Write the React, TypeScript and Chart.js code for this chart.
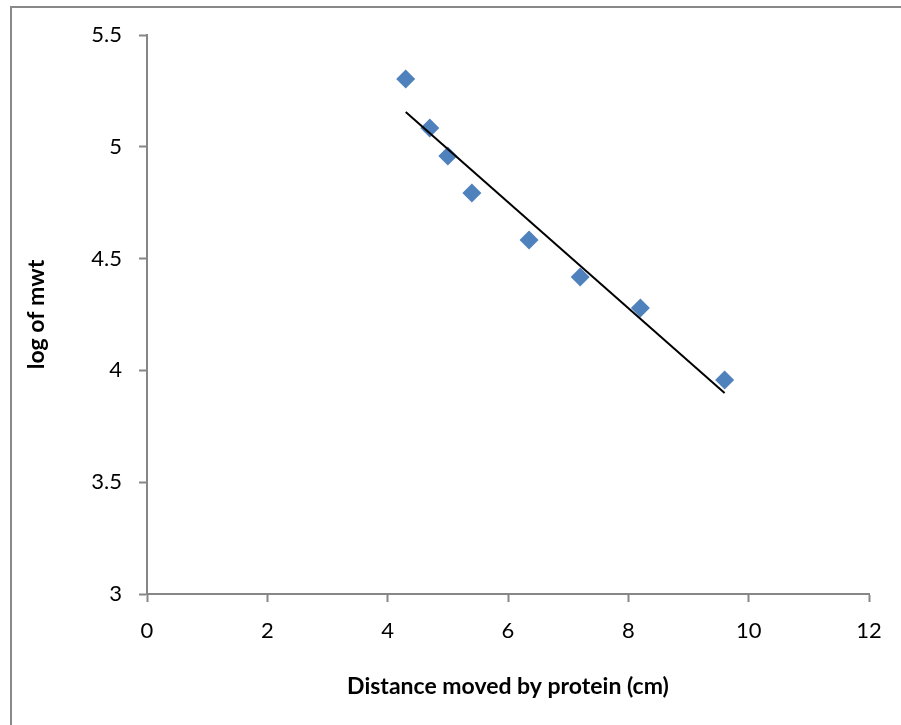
import React, { useEffect, useRef } from "react";
import { Chart, registerables } from "chart.js";

Chart.register(...registerables);

const distances = [4.3, 4.7, 5.0, 5.4, 6.35, 7.2, 8.2, 9.6];
const logMwt = [5.303, 5.084, 4.959, 4.793, 4.583, 4.418, 4.279, 3.957];
const trendX = [4.3, 9.6];
const trendY = [5.156, 3.899];
const xTicks = [0, 2, 4, 6, 8, 10, 12];
const yTicks = [3, 3.5, 4, 4.5, 5, 5.5];

const FONT = "Lato, 'Open Sans', sans-serif";
const GRAY = "#868686";

const framePlugin = {
  id: "frame",
  beforeDraw(chart: any) {
    const ctx = chart.ctx;
    ctx.save();
    ctx.fillStyle = "#ffffff";
    ctx.fillRect(0, 0, chart.width, chart.height);
    ctx.fillStyle = "#898989";
    ctx.fillRect(10, 6, chart.width - 10, 2);
    ctx.fillRect(10, 6, 2, chart.height - 6);
    ctx.restore();
  },
};

export default function App() {
  const ref = useRef<HTMLCanvasElement | null>(null);
  useEffect(() => {
    if (!ref.current) return;
    const chart = new Chart(ref.current, {
      type: "scatter",
      data: {
        datasets: [
          {
            type: "line",
            label: "Trend",
            data: trendX.map((x, i) => ({ x, y: trendY[i] })),
            borderColor: "#000000",
            borderWidth: 2,
            pointRadius: 0,
            fill: false,
          } as any,
          {
            label: "log of mwt",
            data: distances.map((x, i) => ({ x, y: logMwt[i] })),
            pointStyle: "rectRot",
            pointRadius: 9.5,
            backgroundColor: "#4F81BD",
            borderColor: "#4F81BD",
            borderWidth: 0,
          },
        ],
      },
      options: {
        responsive: false,
        animation: false,
        layout: { padding: { left: 0, top: 35, right: 32, bottom: 0 } },
        plugins: {
          legend: { display: false },
          tooltip: { enabled: false },
        },
        scales: {
          x: {
            type: "linear",
            min: 0,
            max: 12,
            afterBuildTicks: (s: any) => {
              s.ticks = xTicks.map((v) => ({ value: v }));
            },
            afterFit: (s: any) => {
              s.height = 131;
            },
            grid: {
              drawOnChartArea: false,
              drawTicks: true,
              tickLength: 8,
              tickWidth: 2,
              tickColor: GRAY,
            },
            border: { display: true, color: GRAY, width: 2 },
            ticks: {
              color: "#000000",
              font: { family: FONT, size: 22 },
              padding: 16,
              maxRotation: 0,
              callback: (v: any) => String(v),
            },
            title: {
              display: true,
              text: "Distance moved by protein (cm)",
              color: "#000000",
              font: { family: FONT, size: 23, weight: "bold" },
              padding: { top: 0, bottom: 25 },
            },
          },
          y: {
            type: "linear",
            min: 3,
            max: 5.5,
            afterBuildTicks: (s: any) => {
              s.ticks = yTicks.map((v) => ({ value: v }));
            },
            afterFit: (s: any) => {
              s.width = 147;
            },
            grid: {
              drawOnChartArea: false,
              drawTicks: true,
              tickLength: 8,
              tickWidth: 2,
              tickColor: GRAY,
            },
            border: { display: true, color: GRAY, width: 2 },
            ticks: {
              color: "#000000",
              font: { family: FONT, size: 22 },
              padding: 17,
              callback: (v: any) => String(v),
            },
            title: {
              display: true,
              text: "log of mwt",
              color: "#000000",
              font: { family: FONT, size: 23, weight: "bold" },
              padding: { top: 23, bottom: 0 },
            },
          },
        },
      },
      plugins: [framePlugin],
    });
    return () => chart.destroy();
  }, []);
  return (
    <div style={{ position: "fixed", left: 0, top: 0, width: 901, height: 725 }}>
      <canvas ref={ref} width={901} height={725} style={{ display: "block" }} />
    </div>
  );
}
